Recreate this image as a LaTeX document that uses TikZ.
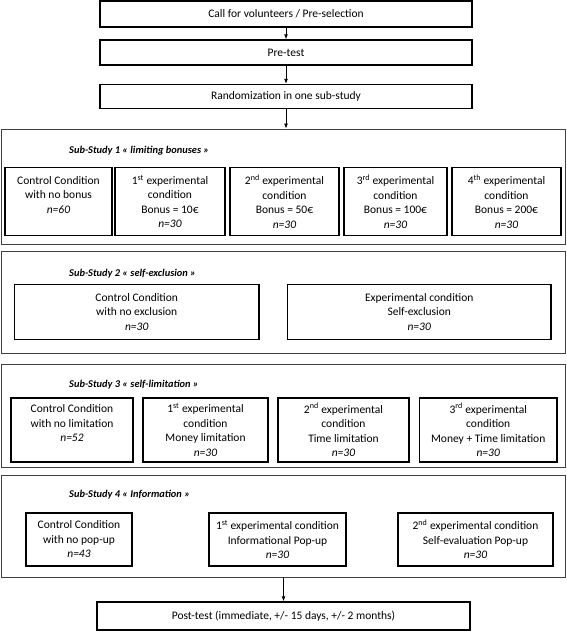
\documentclass[tikz,border=0pt]{standalone}
\usepackage{fontspec}
\setmainfont{Carlito}
\usetikzlibrary{arrows.meta}
\tikzset{
  cbox/.style={draw=black, line width=1.3pt, inner sep=0pt, align=center,
    font=\fontsize{11.5}{14.5}\selectfont},
  frame/.style={draw=black!75, line width=0.8pt, inner sep=0pt},
  ttl/.style={anchor=west, inner sep=0pt, font=\fontsize{10.4}{12}\selectfont\bfseries\itshape},
  arr/.style={-{Latex[length=5pt,width=4pt]}, line width=0.9pt}
}
\begin{document}
\begin{tikzpicture}[x=1pt,y=-1pt]
\useasboundingbox (0,0) rectangle (567,632);
% top chain
\node[cbox, minimum width=372pt, minimum height=26pt] (call) at (286,14) {Call for volunteers / Pre-selection};
\node[cbox, minimum width=372pt, minimum height=25pt] (pre) at (286,52.5) {Pre-test};
\node[cbox, minimum width=372pt, minimum height=24pt] (rand) at (286,96.5) {Randomization in one sub-study};
% frame 1
\node[frame, minimum width=564pt, minimum height=115pt] (f1) at (283,186.5) {};
\node[ttl] (t1) at (69,151) {Sub-Study 1 « limiting bonuses »};
\node[cbox, minimum width=107pt, minimum height=68pt] (a1) at (58.5,201.5) {Control Condition\\with no bonus\\\textit{n=60}\\[-1pt]\mbox{}};
\node[cbox, minimum width=110pt, minimum height=68pt] (a2) at (170,201.5) {1\textsuperscript{st} experimental\\condition\\Bonus = 10€\\\textit{n=30}};
\node[cbox, minimum width=109pt, minimum height=68pt] (a3) at (284.5,201.5) {2\textsuperscript{nd} experimental\\condition\\Bonus = 50€\\\textit{n=30}};
\node[cbox, minimum width=103pt, minimum height=68pt] (a4) at (395.5,201.5) {3\textsuperscript{rd} experimental\\condition\\Bonus = 100€\\\textit{n=30}};
\node[cbox, minimum width=109pt, minimum height=68pt] (a5) at (506.5,201.5) {4\textsuperscript{th} experimental\\condition\\Bonus = 200€\\\textit{n=30}};
% frame 2
\node[frame, minimum width=564pt, minimum height=102pt] (f2) at (283,302) {};
\node[ttl] (t2) at (69,274) {Sub-Study 2 « self-exclusion »};
\node[cbox, minimum width=244.5pt, minimum height=55pt] (b1) at (136.75,312) {Control Condition\\with no exclusion\\\textit{n=30}};
\node[cbox, minimum width=263.5pt, minimum height=55pt] (b2) at (419.25,312) {Experimental condition\\Self-exclusion\\\textit{n=30}};
% frame 3
\node[frame, minimum width=564pt, minimum height=103pt] (f3) at (283,415.5) {};
\node[ttl] (t3) at (69,385) {Sub-Study 3 « self-limitation »};
\node[cbox, minimum width=122pt, minimum height=64pt] (c1) at (72,430) {Control Condition\\with no limitation\\\textit{n=52}\\[-1pt]\mbox{}};
\node[cbox, minimum width=125pt, minimum height=64pt] (c2) at (205.5,430) {1\textsuperscript{st} experimental\\condition\\Money limitation\\\textit{n=30}};
\node[cbox, minimum width=131pt, minimum height=64pt] (c3) at (343.5,430) {2\textsuperscript{nd} experimental\\condition\\Time limitation\\\textit{n=30}};
\node[cbox, minimum width=137.5pt, minimum height=64pt] (c4) at (488.25,430) {3\textsuperscript{rd} experimental\\condition\\Money + Time limitation\\\textit{n=30}};
% frame 4
\node[frame, minimum width=564pt, minimum height=102pt] (f4) at (283,526) {};
\node[ttl] (t4) at (69,495) {Sub-Study 4 « Information »};
\node[cbox, minimum width=106pt, minimum height=53pt] (d1) at (79,539.5) {Control Condition\\with no pop-up\\\textit{n=43}};
\node[cbox, minimum width=137pt, minimum height=53pt] (d2) at (277.5,539.5) {1\textsuperscript{st} experimental condition\\Informational Pop-up\\\textit{n=30}};
\node[cbox, minimum width=155pt, minimum height=53pt] (d3) at (475.5,539.5) {2\textsuperscript{nd} experimental condition\\Self-evaluation Pop-up\\\textit{n=30}};
% post-test
\node[cbox, minimum width=373pt, minimum height=28pt] (post) at (283.5,616) {Post-test (immediate, +/- 15 days, +/- 2 months)};
% arrows
\draw[arr] (call.south) -- (pre.north);
\draw[arr] (pre.south) -- (rand.north);
\draw[arr] (rand.south) -- (rand.south |- f1.north);
\draw[arr] (post.north |- f4.south) -- (post.north);
\end{tikzpicture}
\end{document}
